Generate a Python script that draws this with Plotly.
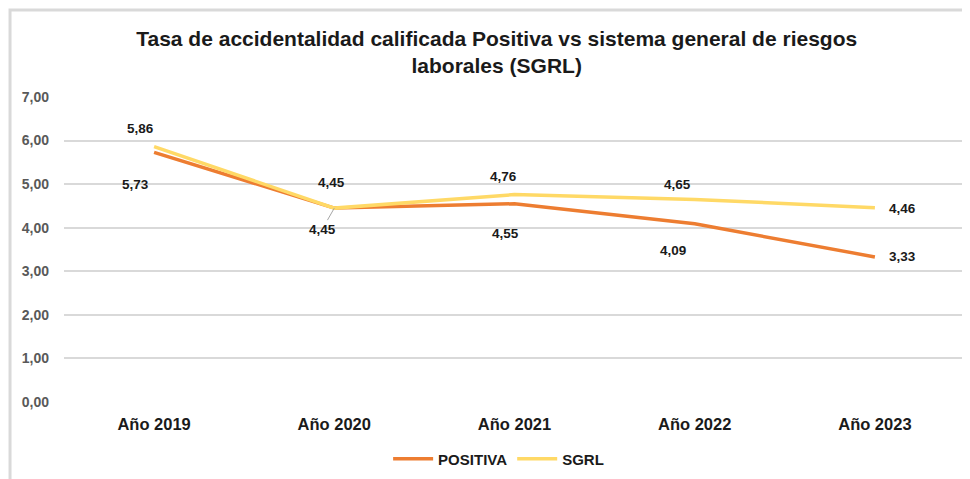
import plotly.graph_objects as go

categories = ["Año 2019", "Año 2020", "Año 2021", "Año 2022", "Año 2023"]
positiva = [5.73, 4.45, 4.55, 4.09, 3.33]
sgrl = [5.86, 4.45, 4.76, 4.65, 4.46]

ORANGE = "#ED7D31"
YELLOW = "#FFD966"
FONT = "Liberation Sans"

fig = go.Figure()
fig.add_trace(go.Scatter(x=categories, y=positiva, mode="lines", name="POSITIVA",
                         line=dict(color=ORANGE, width=3.5)))
fig.add_trace(go.Scatter(x=categories, y=sgrl, mode="lines", name="SGRL",
                         line=dict(color=YELLOW, width=3.5)))

def fmt(v):
    return f"{v:.2f}".replace(".", ",")

# label offsets (pixels) for each point
pos_off = [(-19, -32), None, (-9, -30), (-22, -27), (28, 0)]
sgrl_off = [(-14, 18), (-3, 26), (-11, 18), (-17, 15), (28, -1)]

annotations = []
lblfont = dict(family=FONT, size=13.5, color="#1a1a1a")
for i, (c, v) in enumerate(zip(categories, positiva)):
    if pos_off[i] is None:
        annotations.append(dict(x=c, y=v, xref="x", yref="y", text="<b>" + fmt(v) + "</b>",
                                showarrow=True, arrowhead=0, arrowwidth=1, arrowcolor="#A6A6A6",
                                ax=-12, ay=21, standoff=0, font=lblfont))
    else:
        dx, dy = pos_off[i]
        annotations.append(dict(x=c, y=v, xref="x", yref="y", text="<b>" + fmt(v) + "</b>",
                                showarrow=False, xshift=dx, yshift=dy, font=lblfont))
for i, (c, v) in enumerate(zip(categories, sgrl)):
    dx, dy = sgrl_off[i]
    annotations.append(dict(x=c, y=v, xref="x", yref="y", text="<b>" + fmt(v) + "</b>",
                            showarrow=False, xshift=dx, yshift=dy, font=lblfont))

fig.update_layout(
    width=962, height=471,
    margin=dict(l=56, r=5, t=89, b=77, autoexpand=False),
    paper_bgcolor="white", plot_bgcolor="white",
    separators=",.",
    title=dict(text="<b>Tasa de accidentalidad calificada Positiva vs sistema general de riesgos<br>laborales (SGRL)</b>",
               xref="container", x=0.508, xanchor="center", yref="container", y=0.919, yanchor="top",
               font=dict(family=FONT, size=21, color="#1a1a1a")),
    xaxis=dict(showgrid=False, showline=False, zeroline=False, ticks="",
               range=[-0.5, 4.5], ticklabelstandoff=10,
               tickfont=dict(family=FONT, size=16.5, color="#1a1a1a", weight="bold")),
    yaxis=dict(range=[0, 7], dtick=1, tickformat=".2f", showgrid=True, gridcolor="#D9D9D9",
               gridwidth=1.5, zeroline=False, showline=False, ticks="", ticklabelstandoff=14,
               tickfont=dict(family=FONT, size=14, color="#595959", weight="bold")),
    legend=dict(orientation="h", xref="container", x=0.51, xanchor="center",
                yref="container", y=0.0425, yanchor="middle",
                font=dict(family=FONT, size=15, color="#1a1a1a", weight="bold"),
                itemwidth=40, traceorder="normal"),
    annotations=annotations,
    shapes=[dict(type="rect", xref="paper", yref="paper", x0=-0.0599, x1=1.2, y0=-0.6, y1=1.2852,
                 line=dict(color="#D9D9D9", width=3), fillcolor="rgba(0,0,0,0)", layer="below")],
)

fig.write_html("out.html")
